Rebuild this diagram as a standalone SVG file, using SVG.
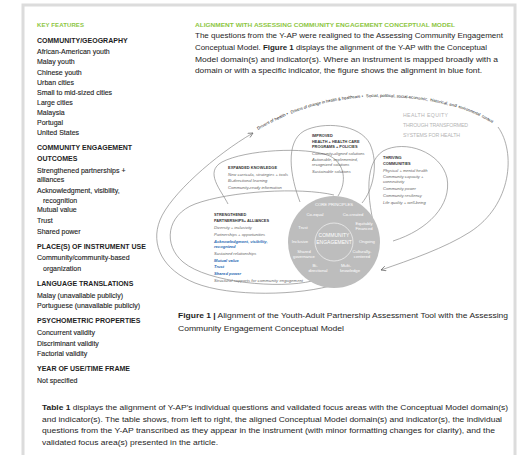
<svg xmlns="http://www.w3.org/2000/svg" width="520" height="455" viewBox="0 0 520 455">
<defs>
<style>
.t{font-family:"Liberation Sans",Arial,sans-serif;fill:#1e1e1e}
.sb{font-size:7px;stroke:#1e1e1e;stroke-width:0.12}
.sh{font-size:7px;font-weight:bold}
.grn{font-weight:bold;fill:#8dc63f}
.p{font-size:8px}
.b{font-weight:bold}
.ol{fill:none;stroke:#8a8a8a;stroke-width:0.7}
.ph{font-size:3.9px;font-weight:bold;fill:#333}
.pi{font-size:4.1px;font-style:italic;fill:#666}
.blue{fill:#2a6ab3;font-weight:bold}
.ct{font-size:4.2px;fill:#fff}
.cx{font-size:4.2px;fill:#222}
.he{font-size:5.2px;fill:#b4b4b4}
</style>
<marker id="ah" viewBox="0 0 10 10" refX="9" refY="5" markerWidth="6" markerHeight="6" orient="auto" markerUnits="userSpaceOnUse">
<path d="M1,1 L9,5 L1,9" fill="none" stroke="#666" stroke-width="1.2"/>
</marker>
<path id="ctx" d="M 258,130 C 300,105 345,96 385,97 C 430,98 475,108 500,129"/>
</defs>
<rect x="0" y="0" width="520" height="455" fill="#fff"/>
<rect x="23" y="5" width="492" height="470" fill="#fff" stroke="#dcdcdc" stroke-width="3"/>

<g id="sidebar" class="t">
<text x="37" y="26.5" class="grn" font-size="6" textLength="47">KEY FEATURES</text>
<text x="37" y="42.5" class="sh">COMMUNITY/GEOGRAPHY</text>
<text x="37" y="53.5" class="sb">African-American youth</text>
<text x="37" y="64" class="sb">Malay youth</text>
<text x="37" y="74.5" class="sb">Chinese youth</text>
<text x="37" y="84.5" class="sb">Urban cities</text>
<text x="37" y="94.5" class="sb">Small to mid-sized cities</text>
<text x="37" y="105" class="sb">Large cities</text>
<text x="37" y="115" class="sb">Malaysia</text>
<text x="37" y="125" class="sb">Portugal</text>
<text x="37" y="134.5" class="sb">United States</text>
<text x="37" y="149.5" class="sh">COMMUNITY ENGAGEMENT</text>
<text x="37" y="160.5" class="sh">OUTCOMES</text>
<text x="37" y="172.5" class="sb">Strengthened partnerships +</text>
<text x="37" y="181.5" class="sb">alliances</text>
<text x="37" y="192.5" class="sb">Acknowledgment, visibility,</text>
<text x="43" y="202.5" class="sb">recognition</text>
<text x="37" y="212" class="sb">Mutual value</text>
<text x="37" y="222.5" class="sb">Trust</text>
<text x="37" y="233.5" class="sb">Shared power</text>
<text x="37" y="249" class="sh">PLACE(S) OF INSTRUMENT USE</text>
<text x="37" y="259.5" class="sb">Community/community-based</text>
<text x="43" y="270.5" class="sb">organization</text>
<text x="37" y="285.5" class="sh">LANGUAGE TRANSLATIONS</text>
<text x="37" y="297.5" class="sb">Malay (unavailable publicly)</text>
<text x="37" y="307.5" class="sb">Portuguese (unavailable publicly)</text>
<text x="37" y="322.5" class="sh">PSYCHOMETRIC PROPERTIES</text>
<text x="37" y="335" class="sb">Concurrent validity</text>
<text x="37" y="345.5" class="sb">Discriminant validity</text>
<text x="37" y="355.5" class="sb">Factorial validity</text>
<text x="37" y="370.5" class="sh">YEAR OF USE/TIME FRAME</text>
<text x="37" y="382.5" class="sb">Not specified</text>
</g>

<g id="intro" class="t">
<text x="195" y="26.5" class="grn" font-size="6" textLength="260" lengthAdjust="spacingAndGlyphs">ALIGNMENT WITH ASSESSING COMMUNITY ENGAGEMENT CONCEPTUAL MODEL</text>
<text x="195" y="38" class="p" textLength="308" lengthAdjust="spacingAndGlyphs">The questions from the Y-AP were realigned to the Assessing Community Engagement</text>
<text x="195" y="50" class="p" textLength="292" lengthAdjust="spacingAndGlyphs">Conceptual Model. <tspan class="b">Figure 1</tspan> displays the alignment of the Y-AP with the Conceptual</text>
<text x="195" y="61.5" class="p" textLength="303" lengthAdjust="spacingAndGlyphs">Model domain(s) and indicator(s). Where an instrument is mapped broadly with a</text>
<text x="195" y="73" class="p" textLength="287" lengthAdjust="spacingAndGlyphs">domain or with a specific indicator, the figure shows the alignment in blue font.</text>
</g>

<g id="connectors">
<path class="ol" stroke="#666" d="M 337,284 C 300,296 230,297 195,283 C 163,270 150,245 160,220 C 170,195 215,155 253,133" marker-end="url(#ah)"/>
<path class="ol" stroke="#666" d="M 498,127 C 516,152 512,205 470,232 C 445,248 410,260 381,270" marker-end="url(#ah)"/>
</g>

<g id="context" class="t cx">
<text><textPath href="#ctx" startOffset="0" textLength="34" lengthAdjust="spacingAndGlyphs">Drivers of health  •</textPath></text>
<text><textPath href="#ctx" startOffset="37" textLength="74" lengthAdjust="spacingAndGlyphs">Drivers of change in health &amp; healthcare  •</textPath></text>
<text><textPath href="#ctx" startOffset="114" textLength="62" lengthAdjust="spacingAndGlyphs">Social, political, social-economic,</textPath></text>
<text><textPath href="#ctx" startOffset="178" textLength="27" lengthAdjust="spacingAndGlyphs">historical, and</textPath></text>
<text><textPath href="#ctx" startOffset="207" textLength="23" lengthAdjust="spacingAndGlyphs">environmental</textPath></text>
<text><textPath href="#ctx" startOffset="232" textLength="12.5" lengthAdjust="spacingAndGlyphs">context</textPath></text>
</g>
<g id="health-equity" class="t he">
<text x="403" y="117" textLength="45" lengthAdjust="spacing">HEALTH EQUITY</text>
<text x="403" y="127" textLength="65" lengthAdjust="spacing">THROUGH TRANSFORMED</text>
<text x="403" y="136.5" textLength="57" lengthAdjust="spacing">SYSTEMS FOR HEALTH</text>
</g>

<g id="strengthened">
<path class="ol" d="M 334,195 C 300,187 230,191 195,204 C 166,215 163,245 183,262 C 208,283 280,289 312,281"/>
<text x="214" y="215.5" class="t ph">STRENGTHENED</text>
<text x="214" y="222" class="t ph" textLength="55">PARTNERSHIPS+ ALLIANCES</text>
<text x="214" y="229" class="t pi">Diversity + inclusivity</text>
<text x="214" y="235.5" class="t pi">Partnerships + opportunities</text>
<text x="214" y="242.5" class="t pi blue">Acknowledgment, visibility,</text>
<text x="214" y="247.5" class="t pi blue">recognized</text>
<text x="214" y="254.5" class="t pi">Sustained relationships</text>
<text x="214" y="261.5" class="t pi blue">Mutual value</text>
<text x="214" y="268" class="t pi blue">Trust</text>
<text x="214" y="274.5" class="t pi blue">Shared power</text>
<text x="214" y="281.5" class="t pi" textLength="89">Structural supports for community engagement</text>
</g>

<g id="expanded">
<path class="ol" d="M 228,204 C 221,190 204,172 222,162 C 245,150 305,146 330,156 C 345,164 347,182 338,196"/>
<text x="228" y="168.5" class="t ph" textLength="49">EXPANDED KNOWLEDGE</text>
<text x="228" y="175.5" class="t pi" textLength="60">New curricula, strategies + tools</text>
<text x="228" y="182" class="t pi">Bi-directional learning</text>
<text x="228" y="189" class="t pi">Community-ready information</text>
</g>

<g id="improved">
<path class="ol" d="M 300,202 C 290,176 285,142 304,131 C 323,121 360,124 370,144 C 379,164 373,190 362,203"/>
<text x="312" y="137" class="t ph">IMPROVED</text>
<text x="312" y="142.5" class="t ph">HEALTH + HEALTH CARE</text>
<text x="312" y="148" class="t ph">PROGRAMS + POLICIES</text>
<text x="312" y="154.5" class="t pi">Community-aligned solutions</text>
<text x="312" y="161" class="t pi">Actionable, implemented,</text>
<text x="312" y="165.5" class="t pi">recognized solutions</text>
<text x="312" y="173" class="t pi">Sustainable solutions</text>
</g>

<g id="thriving">
<path class="ol" d="M 378,242 C 368,205 362,165 383,151 C 405,139 441,152 447,178 C 452,205 428,230 393,241"/>
<text x="383" y="159" class="t ph">THRIVING</text>
<text x="383" y="164.5" class="t ph">COMMUNITIES</text>
<text x="383" y="172" class="t pi">Physical + mental health</text>
<text x="383" y="178" class="t pi">Community capacity +</text>
<text x="383" y="183" class="t pi">connectivity</text>
<text x="383" y="190" class="t pi">Community power</text>
<text x="383" y="197" class="t pi">Community resiliency</text>
<text x="383" y="204" class="t pi">Life quality + well-being</text>
</g>

<g id="core">
<circle cx="334" cy="242" r="46" fill="#bdbdbd"/>
<circle cx="334" cy="242" r="19" fill="none" stroke="#fff" stroke-width="0.6"/>
<g class="t ct" text-anchor="middle">
<text x="334" y="205.5">CORE PRINCIPLES</text>
<text x="315" y="215.5">Co-equal</text>
<text x="353" y="215.5">Co-created</text>
<text x="303" y="228.5">Trust</text>
<text x="364" y="225">Equitably</text>
<text x="364" y="229.5">Financed</text>
<text x="334" y="237" font-size="5">COMMUNITY</text>
<text x="334" y="244" font-size="5">ENGAGEMENT</text>
<text x="300" y="242.5">Inclusive</text>
<text x="367" y="242.5">Ongoing</text>
<text x="304" y="253">Shared</text>
<text x="304" y="258">governance</text>
<text x="362" y="253">Culturally-</text>
<text x="362" y="258">centered</text>
<text x="315" y="267">Bi-</text>
<text x="318" y="272">directional</text>
<text x="346" y="267">Multi-</text>
<text x="350" y="272">knowledge</text>
</g>
</g>

<g id="caption" class="t">
<text x="178" y="318" class="p" textLength="330" lengthAdjust="spacingAndGlyphs"><tspan class="b">Figure 1 |</tspan> Alignment of the Youth-Adult Partnership Assessment Tool with the Assessing</text>
<text x="178" y="331" class="p" textLength="166" lengthAdjust="spacingAndGlyphs">Community Engagement Conceptual Model</text>
</g>

<g id="table-note" class="t">
<text x="42" y="410" class="p" textLength="466" lengthAdjust="spacingAndGlyphs"><tspan class="b">Table 1</tspan> displays the alignment of Y-AP’s individual questions and validated focus areas with the Conceptual Model domain(s)</text>
<text x="42" y="421.5" class="p" textLength="460" lengthAdjust="spacingAndGlyphs">and indicator(s). The table shows, from left to right, the aligned Conceptual Model domain(s) and indicator(s), the individual</text>
<text x="42" y="433" class="p" textLength="453" lengthAdjust="spacingAndGlyphs">questions from the Y-AP transcribed as they appear in the instrument (with minor formatting changes for clarity), and the</text>
<text x="42" y="444.5" class="p" textLength="176" lengthAdjust="spacingAndGlyphs">validated focus area(s) presented in the article.</text>
</g>
</svg>
